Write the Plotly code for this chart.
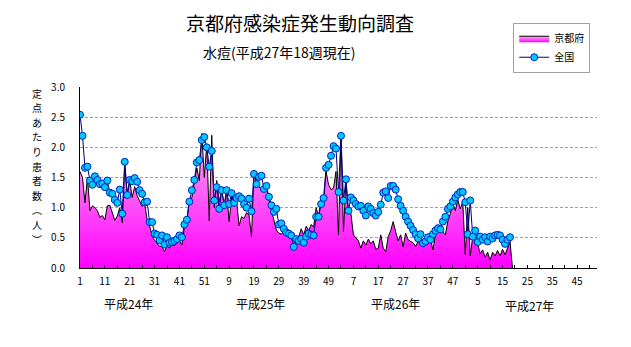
import plotly.graph_objects as go

# ---- data ----
year_labels = ["平成24年", "平成25年", "平成26年", "平成27年"]
year_weeks = [52, 52, 52, 53]
xtick_labels = ["1", "11", "21", "31", "41", "51", "9", "19", "29", "39", "49",
                "7", "17", "27", "37", "47", "5", "15", "25", "35", "45"]

kyoto = [
    1.60, 1.50, 1.08, 1.50, 0.95, 1.03, 1.00, 0.95, 0.84, 0.87,
    0.80, 1.03, 1.04, 0.92, 0.79, 0.86, 1.00, 0.75, 1.72, 1.22,
    1.45, 1.17, 1.35, 1.20, 1.12, 1.02, 1.07, 0.80, 0.70, 0.53,
    0.46, 0.41, 0.36, 0.36, 0.27, 0.37, 0.33, 0.41, 0.37, 0.42,
    0.46, 0.38, 0.68, 0.79, 1.13, 1.16, 1.45, 1.66, 1.45, 2.23,
    1.50, 2.05, 0.78, 2.20, 1.00, 1.45, 1.10, 1.29, 1.05, 1.25,
    0.77, 1.18, 1.10, 1.12, 0.70, 0.85, 0.82, 0.92, 0.88, 0.52,
    1.60, 1.42, 1.35, 1.30, 1.27, 1.32, 1.13, 0.95, 0.80, 0.63,
    0.58, 0.56, 0.62, 0.60, 0.58, 0.55, 0.45, 0.41, 0.52, 0.65,
    0.55, 0.69, 0.62, 0.72, 0.68, 1.00, 0.85, 1.18, 1.10, 1.60,
    1.38, 1.30, 1.32, 1.60, 0.55, 2.18, 0.60, 1.45, 0.92, 0.90,
    0.55, 0.50, 0.45, 0.33, 0.45, 0.38, 0.48, 0.40, 0.45, 0.31,
    0.33, 0.55, 0.33, 0.27, 0.52, 0.62, 0.77, 0.60, 0.45, 0.55,
    0.35, 0.58, 0.47, 0.44, 0.42, 0.36, 0.44, 0.40, 0.38, 0.47,
    0.55, 0.48, 0.30, 0.55, 0.62, 0.64, 0.60, 0.55, 0.78, 0.90,
    1.07, 0.95, 1.13, 0.98, 1.10, 0.22, 1.00, 0.20, 0.52, 0.45,
    0.40, 0.24, 0.30, 0.18, 0.26, 0.13, 0.26, 0.20, 0.29, 0.20,
    0.31, 0.22, 0.35, 0.44,
]

national = [
    2.54, 2.19, 1.66, 1.68, 1.45, 1.38, 1.52, 1.46, 1.39, 1.40,
    1.34, 1.45, 1.25, 1.23, 1.13, 1.08, 1.30, 0.90, 1.76, 1.21,
    1.46, 1.44, 1.49, 1.43, 1.29, 1.23, 1.09, 1.10, 0.76, 0.76,
    0.57, 0.55, 0.46, 0.54, 0.39, 0.51, 0.42, 0.43, 0.45, 0.48,
    0.54, 0.51, 0.72, 0.80, 1.10, 1.29, 1.46, 1.75, 1.79, 2.12,
    2.17, 2.00, 1.68, 1.94, 1.12, 1.34, 0.98, 1.29, 1.04, 1.29,
    1.06, 1.24, 1.08, 1.16, 1.19, 1.15, 1.06, 1.00, 1.15, 0.94,
    1.56, 1.39, 1.51, 1.53, 1.31, 1.36, 1.18, 1.04, 0.93, 0.98,
    0.72, 0.74, 0.65, 0.59, 0.57, 0.54, 0.35, 0.48, 0.45, 0.48,
    0.42, 0.52, 0.57, 0.55, 0.54, 0.85, 0.85, 1.06, 1.16, 1.66,
    1.71, 1.86, 2.02, 1.98, 1.26, 2.19, 1.12, 1.47, 0.95, 1.17,
    1.12, 1.06, 1.02, 1.03, 0.95, 0.87, 1.02, 0.98, 0.91, 0.87,
    0.93, 1.05, 1.25, 1.27, 1.16, 1.36, 1.36, 1.30, 1.14, 1.03,
    0.95, 0.85, 0.77, 0.70, 0.63, 0.56, 0.49, 0.56, 0.41, 0.44,
    0.51, 0.47, 0.56, 0.62, 0.66, 0.64, 0.77, 0.85, 0.98, 1.02,
    1.10, 1.17, 1.22, 1.26, 1.26, 1.09, 0.56, 1.12, 0.52, 0.62,
    0.43, 0.52, 0.47, 0.51, 0.44, 0.52, 0.49, 0.54, 0.55, 0.54,
    0.47, 0.40, 0.47, 0.51,
]

FONT = "Noto Sans CJK JP"
n_total = sum(year_weeks)

# area chart: blank week after the last value is drawn as zero
kx = list(range(1, len(kyoto) + 2))
ky = kyoto + [0]
nx = list(range(1, len(national) + 1))

fig = go.Figure()
fig.add_trace(go.Scatter(
    x=kx, y=ky, name="京都府", mode="lines",
    line=dict(color="black", width=1),
    fill="tozeroy",
    fillgradient=dict(type="vertical", start=0, stop=2.3,
                      colorscale=[[0, "#ff00ff"], [1, "#ffb0ee"]]),
))
fig.add_trace(go.Scatter(
    x=nx, y=national, name="全国", mode="lines+markers",
    line=dict(color="#000080", width=1),
    marker=dict(size=7, color="#00c8ff", line=dict(color="#0020c0", width=1)),
))

tickvals = [1 + 10 * k for k in range(len(xtick_labels))]

fig.update_layout(
    width=631, height=347,
    margin=dict(l=80, r=34, t=87, b=79),
    paper_bgcolor="white", plot_bgcolor="white",
    font=dict(family=FONT, color="black", size=10),
    showlegend=True,
    legend=dict(x=0.838, y=1.355, xanchor="left", yanchor="top",
                bordercolor="#a0a0a0", borderwidth=1,
                font=dict(size=10, family=FONT), tracegroupgap=0,
                itemwidth=30),
    xaxis=dict(range=[1, n_total], tickvals=tickvals, ticktext=xtick_labels,
               showline=True, linecolor="black", linewidth=1,
               ticks="inside", ticklen=3, tickcolor="black",
               minor=dict(dtick=5, tick0=1, ticks="inside", ticklen=3,
                          tickcolor="black", showgrid=False),
               showgrid=False, zeroline=False,
               tickfont=dict(size=10, family=FONT), ticklabelstandoff=4),
    yaxis=dict(range=[0, 3], dtick=0.5, tick0=0, tickformat=".1f",
               showline=True, linecolor="black", linewidth=1,
               showgrid=True, gridcolor="#a0a0a0", griddash="3px,2px",
               gridwidth=1, zeroline=False, ticks="",
               tickfont=dict(size=10, family=FONT), ticklabelstandoff=12),
)

ann = []
ann.append(dict(text="京都府感染症発生動向調査", xref="paper", yref="paper",
                x=0.4255, y=1.359, xanchor="center", yanchor="middle",
                showarrow=False, font=dict(size=19, family=FONT)))
ann.append(dict(text="水痘(平成27年18週現在)", xref="paper", yref="paper",
                x=0.235, y=1.193, xanchor="left", yanchor="middle",
                showarrow=False, font=dict(size=14, family=FONT)))

# year labels under the axis
year_centers = [20.7, 73.8, 127.8, 181.7]
for lab, xc, yy in zip(year_labels, year_centers, [-0.195, -0.195, -0.195, -0.205]):
    ann.append(dict(text=lab, xref="x", yref="paper", x=xc, y=yy,
                    xanchor="center", yanchor="middle", showarrow=False,
                    font=dict(size=12, family=FONT)))

# vertical (upright) y-axis title, one character per annotation
ychars = list("定点あたり患者数") + ["︵", "人", "︶"]
for k, ch in enumerate(ychars):
    yp = 93 + 14.6 * k
    ann.append(dict(text=ch, xref="paper", yref="paper",
                    x=(37 - 80) / 517, y=(268 - yp) / 181,
                    xanchor="center", yanchor="middle", showarrow=False,
                    font=dict(size=10, family=FONT)))

fig.update_layout(annotations=ann)
fig.write_html("out.html")
